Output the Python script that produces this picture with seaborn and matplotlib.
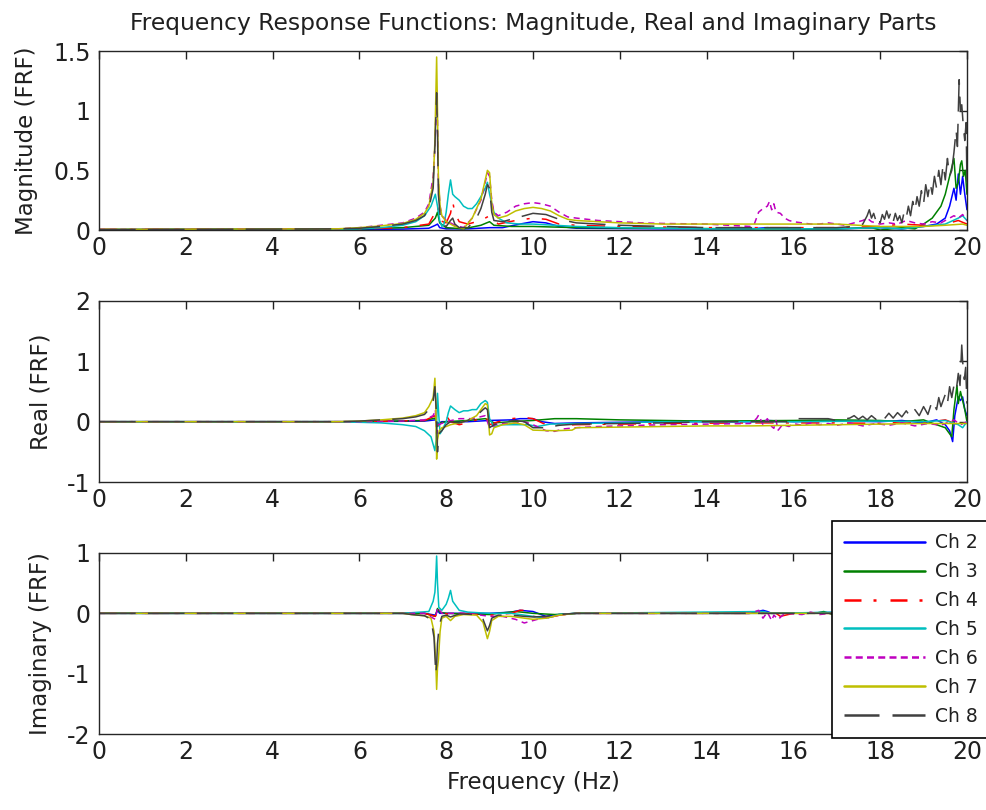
import matplotlib
matplotlib.use("Agg")
import matplotlib.pyplot as plt
import seaborn as sns
import pandas as pd

# ---------------- data (frequency Hz, value) ----------------
CHANNELS = ["Ch 2", "Ch 3", "Ch 4", "Ch 5", "Ch 6", "Ch 7", "Ch 8"]
COLORS = ["#0000ff", "#008000", "#ff0000", "#00bfbf", "#bf00bf", "#bfbf00", "#404040"]

MAG_CH2 = [(0,0.003),(6,0.005),(7.0,0.008),(7.6,0.015),(7.75,0.04),(7.8,0.05),(7.85,0.02),(8.0,0.01),(8.5,0.01),(9.0,0.02),(9.3,0.02),(9.7,0.05),(10.0,0.07),(10.3,0.06),(10.6,0.03),(11,0.015),(13,0.01),(15,0.01),(15.4,0.02),(16,0.01),(17,0.01),(18,0.02),(18.5,0.01),(19,0.03),(19.3,0.05),(19.5,0.1),(19.6,0.2),(19.7,0.35),(19.75,0.25),(19.8,0.47),(19.85,0.3),(19.9,0.45),(19.95,0.3),(20,0.17)]
MAG_CH3 = [(0,0.005),(6,0.01),(7,0.02),(7.6,0.04),(7.75,0.1),(7.8,0.15),(7.85,0.06),(8.0,0.02),(8.4,0.01),(8.8,0.04),(9.0,0.07),(9.1,0.04),(9.5,0.03),(10,0.03),(11,0.02),(13,0.015),(15,0.01),(16,0.01),(17,0.01),(17.8,0.02),(18,0.0),(18.5,0.02),(18.8,0.01),(19.0,0.05),(19.2,0.1),(19.4,0.2),(19.5,0.3),(19.6,0.45),(19.7,0.6),(19.75,0.35),(19.8,0.4),(19.85,0.55),(19.88,0.58),(19.92,0.45),(19.96,0.5),(20,0.3)]
MAG_CH4 = [(0,0.005),(6,0.01),(7,0.02),(7.6,0.05),(7.75,0.15),(7.8,0.2),(7.85,0.08),(8.0,0.06),(8.1,0.14),(8.15,0.24),(8.2,0.14),(8.3,0.07),(8.5,0.05),(8.8,0.08),(9.0,0.12),(9.2,0.05),(9.6,0.08),(10,0.1),(10.3,0.09),(10.6,0.05),(11,0.04),(12,0.03),(14,0.02),(15,0.02),(16,0.02),(17,0.02),(18,0.03),(18.5,0.05),(19,0.04),(19.5,0.05),(19.8,0.08),(20,0.05)]
MAG_CH5 = [(0,0.003),(5.5,0.005),(6,0.01),(6.5,0.02),(7.0,0.04),(7.3,0.07),(7.5,0.12),(7.65,0.2),(7.75,0.3),(7.8,0.2),(7.85,0.08),(7.9,0.03),(7.95,0.05),(8.0,0.15),(8.05,0.3),(8.1,0.42),(8.15,0.3),(8.2,0.28),(8.3,0.25),(8.4,0.2),(8.5,0.18),(8.6,0.18),(8.7,0.22),(8.8,0.28),(8.9,0.35),(8.95,0.4),(9.0,0.3),(9.1,0.15),(9.2,0.1),(9.4,0.06),(9.7,0.05),(10,0.05),(10.5,0.04),(11,0.03),(12,0.02),(13,0.015),(14,0.01),(15,0.01),(16,0.01),(17,0.01),(18,0.02),(18.5,0.01),(19,0.03),(19.5,0.05),(19.8,0.1),(19.9,0.12),(20,0.08)]
MAG_CH6 = [(0,0.005),(5.5,0.01),(6.0,0.02),(6.5,0.04),(7.0,0.06),(7.3,0.1),(7.5,0.15),(7.6,0.22),(7.7,0.45),(7.74,0.7),(7.78,1.17),(7.8,0.9),(7.82,0.4),(7.86,0.2),(7.9,0.12),(8.0,0.08),(8.2,0.04),(8.4,0.02),(8.6,0.1),(8.8,0.25),(8.9,0.4),(8.95,0.48),(9.0,0.45),(9.05,0.25),(9.1,0.15),(9.2,0.12),(9.4,0.15),(9.6,0.2),(9.8,0.22),(10.0,0.23),(10.2,0.22),(10.4,0.2),(10.6,0.15),(10.8,0.11),(11.0,0.1),(11.5,0.08),(12.0,0.07),(12.5,0.06),(13,0.055),(14,0.05),(14.5,0.04),(15.0,0.03),(15.1,0.05),(15.2,0.15),(15.3,0.18),(15.4,0.2),(15.45,0.24),(15.5,0.17),(15.55,0.22),(15.6,0.15),(15.7,0.14),(15.8,0.1),(15.9,0.08),(16.0,0.07),(16.2,0.06),(16.4,0.05),(16.6,0.05),(16.8,0.06),(17.0,0.05),(17.2,0.04),(17.4,0.06),(17.6,0.08),(17.7,0.1),(17.8,0.07),(18.0,0.05),(18.2,0.06),(18.4,0.05),(18.6,0.08),(18.8,0.06),(19.0,0.05),(19.2,0.07),(19.4,0.06),(19.6,0.1),(19.7,0.12),(19.8,0.1),(19.9,0.13),(20,0.08)]
MAG_CH7 = [(0,0.005),(5.5,0.01),(6.0,0.02),(6.5,0.035),(7.0,0.055),(7.3,0.09),(7.5,0.14),(7.6,0.2),(7.7,0.4),(7.74,0.75),(7.78,1.45),(7.8,1.0),(7.82,0.45),(7.86,0.2),(7.9,0.12),(8.0,0.07),(8.2,0.03),(8.4,0.01),(8.6,0.1),(8.8,0.26),(8.9,0.42),(8.95,0.5),(9.0,0.48),(9.05,0.22),(9.1,0.13),(9.2,0.1),(9.4,0.12),(9.6,0.16),(9.8,0.18),(10.0,0.19),(10.2,0.18),(10.4,0.16),(10.6,0.12),(10.8,0.09),(11.0,0.08),(11.5,0.07),(12,0.06),(13,0.05),(14,0.05),(15,0.05),(16,0.05),(17,0.05),(17.5,0.04),(18,0.03),(19,0.03),(19.5,0.04),(19.9,0.05),(20,0.04)]
MAG_CH8 = [(0,0.003),(5.5,0.01),(6.0,0.015),(6.5,0.03),(7.0,0.05),(7.3,0.08),(7.5,0.12),(7.6,0.18),(7.7,0.35),(7.74,0.7),(7.78,1.15),(7.8,0.8),(7.82,0.3),(7.86,0.12),(7.9,0.05),(8.0,0.03),(8.1,0.08),(8.15,0.1),(8.2,0.05),(8.3,0.02),(8.5,0.02),(8.7,0.1),(8.8,0.18),(8.9,0.3),(8.95,0.38),(9.0,0.35),(9.05,0.15),(9.1,0.08),(9.3,0.07),(9.6,0.1),(9.8,0.12),(10.0,0.14),(10.3,0.13),(10.6,0.09),(11,0.06),(12,0.04),(13,0.03),(14,0.02),(15,0.02),(16,0.02),(17,0.02),(17.4,0.03),(17.6,0.05),(17.7,0.12),(17.75,0.17),(17.8,0.1),(17.85,0.14),(17.9,0.08),(17.95,0.12),(18.0,0.06),(18.05,0.13),(18.1,0.09),(18.15,0.16),(18.2,0.1),(18.25,0.15),(18.3,0.07),(18.35,0.14),(18.4,0.08),(18.45,0.12),(18.5,0.06),(18.55,0.15),(18.6,0.1),(18.65,0.2),(18.7,0.12),(18.75,0.24),(18.8,0.16),(18.85,0.28),(18.9,0.2),(18.95,0.33),(19.0,0.22),(19.05,0.38),(19.1,0.28),(19.15,0.4),(19.2,0.3),(19.25,0.45),(19.3,0.35),(19.35,0.5),(19.4,0.38),(19.45,0.55),(19.5,0.42),(19.55,0.6),(19.6,0.45),(19.65,0.5),(19.7,0.65),(19.75,0.84),(19.78,0.7),(19.82,1.26),(19.85,1.0),(19.88,1.05),(19.92,0.85),(19.95,0.75),(19.98,0.9),(20,0.4)]

RE_CH2 = [(0,0),(6,0),(7.5,0.01),(7.75,0.03),(7.8,-0.03),(7.9,0),(8.5,0.0),(9.0,0.02),(9.5,0.03),(9.7,0.05),(10.0,0.05),(10.2,0),(10.5,-0.03),(11,-0.02),(13,0),(15,0),(15.4,0.02),(16,0),(17,0.01),(18,0),(18.5,0.02),(19,-0.02),(19.3,0.03),(19.5,-0.05),(19.6,-0.15),(19.67,-0.33),(19.72,0.1),(19.8,0.41),(19.85,0.35),(19.9,0.41),(19.95,0.2),(20,0.1)]
RE_CH3 = [(0,0),(6,0),(7.5,0.02),(7.75,0.06),(7.8,-0.08),(7.85,-0.02),(8.0,0.0),(8.5,0.02),(8.9,0.05),(9.0,0.02),(9.1,-0.02),(9.5,0.0),(10,0.02),(10.5,0.05),(11,0.05),(12,0.03),(14,0.01),(16,0.02),(17,0.03),(18,0.02),(18.5,0.0),(19,0.03),(19.3,-0.05),(19.5,-0.1),(19.6,-0.2),(19.65,-0.25),(19.7,0.2),(19.77,0.6),(19.8,0.3),(19.85,0.5),(19.9,0.35),(19.95,0.2),(20,0.0)]
RE_CH4 = [(0,0),(6,0),(7.5,0.02),(7.75,0.1),(7.8,-0.1),(7.85,-0.05),(7.9,0.05),(8.0,0.1),(8.1,0.0),(8.3,-0.05),(8.6,0.0),(8.9,0.1),(9.0,-0.05),(9.2,0.0),(9.5,0.05),(9.8,0.07),(10.0,0.05),(10.3,-0.05),(10.6,-0.06),(11,-0.05),(13,-0.03),(15,-0.02),(16,-0.02),(17,-0.02),(18,-0.03),(18.5,0.0),(19,-0.02),(19.5,0.03),(19.8,-0.05),(20,0.0)]
RE_CH5 = [(0,0),(5.5,0),(6.0,-0.01),(6.5,-0.02),(7.0,-0.05),(7.3,-0.08),(7.5,-0.15),(7.65,-0.25),(7.74,-0.48),(7.77,-0.3),(7.8,0.47),(7.83,0.1),(7.86,-0.2),(7.9,-0.15),(8.0,0.0),(8.05,0.15),(8.1,0.26),(8.2,0.2),(8.3,0.15),(8.4,0.18),(8.5,0.18),(8.6,0.2),(8.7,0.2),(8.8,0.3),(8.9,0.35),(8.95,0.32),(9.0,0.05),(9.1,-0.08),(9.3,-0.05),(9.6,-0.05),(9.9,-0.05),(10.1,-0.08),(10.4,-0.04),(11,-0.03),(12,-0.02),(13,0.0),(14,0.0),(15,0.0),(16,0.0),(18,0.01),(19,0.0),(19.5,0.02),(19.8,-0.05),(19.9,-0.1),(20,0.0)]
RE_CH6 = [(0,0),(6,0.0),(7.0,0.01),(7.5,0.03),(7.7,0.1),(7.75,0.2),(7.78,-0.2),(7.82,-0.05),(8.0,0.0),(8.3,0.05),(8.6,0.05),(8.9,0.1),(9.0,-0.1),(9.2,-0.03),(9.5,-0.03),(9.8,0.0),(10.0,-0.05),(10.3,-0.15),(10.5,-0.16),(10.7,-0.12),(11,-0.1),(11.5,-0.08),(12,-0.07),(13,-0.05),(14,-0.04),(15,-0.03),(15.15,0.05),(15.2,0.11),(15.3,-0.05),(15.4,0.05),(15.5,-0.08),(15.55,-0.11),(15.6,0.02),(15.65,-0.14),(15.75,-0.05),(15.9,-0.08),(16.0,-0.03),(16.2,-0.06),(16.4,-0.02),(16.6,-0.05),(16.8,-0.03),(17,-0.06),(17.3,-0.02),(17.6,-0.07),(17.9,-0.03),(18.2,-0.06),(18.5,-0.02),(18.8,-0.07),(19.1,-0.03),(19.4,-0.06),(19.7,0.03),(19.85,-0.05),(20,0.0)]
RE_CH7 = [(0,0),(5.5,0.0),(6.0,0.01),(6.5,0.03),(7.0,0.06),(7.3,0.1),(7.5,0.15),(7.6,0.25),(7.7,0.4),(7.74,0.72),(7.76,0.3),(7.78,-0.62),(7.8,-0.3),(7.84,-0.15),(7.9,-0.1),(8.0,-0.08),(8.1,-0.05),(8.3,-0.02),(8.5,0.02),(8.7,0.1),(8.85,0.25),(8.9,0.3),(8.95,0.28),(9.0,-0.22),(9.05,-0.2),(9.1,-0.1),(9.3,-0.05),(9.6,-0.02),(9.8,-0.05),(10.0,-0.14),(10.5,-0.15),(10.9,-0.14),(11.0,-0.1),(12,-0.09),(13,-0.08),(14,-0.07),(15,-0.07),(16,-0.06),(17,-0.05),(18,-0.04),(19,-0.03),(20,-0.03)]
RE_CH8 = [(0,0),(5.5,0),(6.0,0.01),(6.5,0.03),(7.0,0.05),(7.3,0.08),(7.5,0.12),(7.6,0.2),(7.7,0.35),(7.74,0.58),(7.77,0.2),(7.8,-0.5),(7.83,-0.2),(7.9,-0.15),(8.0,-0.05),(8.1,0.0),(8.3,-0.02),(8.5,0.02),(8.7,0.1),(8.85,0.2),(8.9,0.23),(8.95,0.2),(9.0,-0.1),(9.1,-0.05),(9.3,0.0),(9.6,0.02),(9.8,0.0),(10.0,-0.1),(10.3,-0.1),(10.6,-0.06),(11,-0.04),(12,-0.03),(13,-0.02),(14,0.0),(15,0.0),(16,0.0),(16.1,0.05),(16.8,0.05),(17.0,0.02),(17.3,0.06),(17.4,0.1),(17.5,0.04),(17.6,0.09),(17.7,0.03),(17.8,0.1),(17.9,0.04),(18.0,0.12),(18.1,0.05),(18.2,0.14),(18.3,0.06),(18.4,0.15),(18.5,0.08),(18.6,0.18),(18.7,0.08),(18.8,0.2),(18.9,0.1),(19.0,0.25),(19.1,0.12),(19.2,0.35),(19.3,0.2),(19.35,0.4),(19.4,0.25),(19.5,0.45),(19.55,0.3),(19.6,0.58),(19.65,0.4),(19.7,0.6),(19.75,0.5),(19.8,0.8),(19.84,0.6),(19.88,1.27),(19.9,1.0),(19.94,0.7),(19.97,0.9),(20,0.3)]

IM_CH2 = [(0,0),(7.5,0),(7.75,-0.03),(7.8,0.05),(7.85,0),(9.0,0.0),(9.5,0.02),(9.7,0.05),(10.0,0.03),(10.3,-0.05),(10.6,-0.02),(11,0),(15,0),(15.3,0.05),(15.4,0.03),(15.5,0),(17.5,0.02),(18.5,-0.03),(19.5,0.05),(20,0)]
IM_CH3 = [(0,0),(7.5,0),(7.75,-0.05),(7.8,0.08),(7.85,0.02),(8.0,0.0),(9.0,-0.02),(9.2,0.0),(9.6,0.03),(10.0,0.0),(10.5,-0.02),(11,0),(16.5,0),(16.7,0.03),(16.9,-0.02),(17.2,0.02),(20,0)]
IM_CH4 = [(0,0),(7.5,0),(7.75,-0.05),(7.8,0.05),(7.9,0.02),(8.1,-0.03),(8.3,0),(9.0,-0.03),(9.5,0.0),(9.7,0.05),(9.9,0.05),(10.0,-0.05),(10.3,-0.08),(10.6,-0.03),(11,0),(15.6,0),(15.7,-0.05),(16,0),(20,0)]
IM_CH5 = [(0,0),(7.0,0.0),(7.4,0.02),(7.6,0.03),(7.7,0.2),(7.74,0.35),(7.76,0.6),(7.78,0.95),(7.8,0.5),(7.83,0.1),(7.9,0.05),(8.0,0.15),(8.05,0.25),(8.1,0.38),(8.15,0.2),(8.2,0.15),(8.3,0.05),(8.5,0.02),(9.0,0.0),(9.5,0.0),(10.0,-0.05),(10.3,-0.08),(10.6,-0.02),(11,0),(15.3,0.03),(15.5,0),(17,0.02),(20,0)]
IM_CH6 = [(0,0),(7.5,0),(7.75,-0.1),(7.8,0.1),(7.9,0),(8.5,0),(9.0,-0.05),(9.3,-0.05),(9.6,-0.1),(9.8,-0.16),(10.0,-0.12),(10.2,-0.08),(10.4,-0.06),(10.7,-0.02),(11,0),(15.0,0),(15.2,0.05),(15.3,-0.08),(15.4,0.02),(15.5,-0.12),(15.55,-0.03),(15.65,-0.1),(15.8,0.0),(16.2,-0.02),(16.4,0.02),(16.6,-0.02),(17,0.01),(20,0)]
IM_CH7 = [(0,0),(7.0,0),(7.2,-0.02),(7.5,-0.04),(7.65,-0.08),(7.72,-0.3),(7.76,-0.8),(7.78,-1.26),(7.8,-0.9),(7.82,-0.78),(7.86,-0.3),(7.9,-0.08),(8.0,-0.05),(8.1,-0.12),(8.2,-0.05),(8.4,-0.02),(8.7,-0.03),(8.85,-0.15),(8.95,-0.42),(9.0,-0.3),(9.05,-0.12),(9.2,-0.05),(9.5,-0.05),(9.8,-0.08),(10.0,-0.1),(10.3,-0.08),(10.6,-0.03),(11,0),(20,0)]
IM_CH8 = [(0,0),(7.0,0),(7.2,-0.02),(7.5,-0.04),(7.65,-0.1),(7.72,-0.4),(7.76,-1.0),(7.78,-0.85),(7.8,-0.5),(7.84,-0.2),(7.9,-0.05),(8.0,-0.03),(8.1,-0.06),(8.3,-0.01),(8.7,-0.02),(8.85,-0.1),(8.95,-0.29),(9.0,-0.2),(9.05,-0.08),(9.2,-0.03),(9.5,-0.03),(9.8,-0.05),(10.0,-0.06),(10.3,-0.05),(10.6,-0.02),(11,0),(20,0)]

X_TICKS = [0, 2, 4, 6, 8, 10, 12, 14, 16, 18, 20]
MAG_TICKS = [0, 0.5, 1, 1.5]
MAG_TICKLABELS = ["0", "0.5", "1", "1.5"]
RE_TICKS = [-1, 0, 1, 2]
IM_TICKS = [-2, -1, 0, 1]

TITLE = "Frequency Response Functions: Magnitude, Real and Imaginary Parts"
XLABEL = "Frequency (Hz)"
YLABELS = ["Magnitude (FRF)", "Real (FRF)", "Imaginary (FRF)"]

# ---------------- styling ----------------
sns.set_theme(style="white")
plt.rcParams["font.family"] = ["DejaVu Sans"]
plt.rcParams["axes.unicode_minus"] = False
plt.rcParams["axes.edgecolor"] = "#262626"
plt.rcParams["axes.linewidth"] = 1.0

LINESTYLES = ["-", "-", (0, (12, 8, 2, 8)), "-", (0, (4, 3)), "-", (0, (24, 8))]
LEG_LW = 1.8
LEG_STYLES = ["-", "-", (0, (6.8, 4.8, 1.2, 5.6)), "-", (0, (2.8, 1.7)), "-", (0, (14, 5.2))]
LW = 1.1
TXT = "#202020"

fig = plt.figure(figsize=(9.87, 8.10), dpi=100)
L, W = 0.1003, 0.8794
ax_mag = fig.add_axes([L, 0.7160, W, 0.2210])
ax_re = fig.add_axes([L, 0.4049, W, 0.2235])
ax_im = fig.add_axes([L, 0.0938, W, 0.2235])

panels = [
    (ax_mag, [MAG_CH2, MAG_CH3, MAG_CH4, MAG_CH5, MAG_CH6, MAG_CH7, MAG_CH8], (0, 1.5), MAG_TICKS, MAG_TICKLABELS),
    (ax_re, [RE_CH2, RE_CH3, RE_CH4, RE_CH5, RE_CH6, RE_CH7, RE_CH8], (-1, 2), RE_TICKS, [str(t) for t in RE_TICKS]),
    (ax_im, [IM_CH2, IM_CH3, IM_CH4, IM_CH5, IM_CH6, IM_CH7, IM_CH8], (-2, 1), IM_TICKS, [str(t) for t in IM_TICKS]),
]

FS = 17
for i, (ax, series, ylim, yt, ytl) in enumerate(panels):
    for name, pts, col, ls in zip(CHANNELS, series, COLORS, LINESTYLES):
        df = pd.DataFrame(pts, columns=["f", "v"])
        sns.lineplot(data=df, x="f", y="v", ax=ax, color=col, linestyle=ls,
                     linewidth=LW, estimator=None, sort=False, legend=False,
                     label=name, clip_on=True)
    ax.set_xlim(0, 20)
    ax.set_ylim(*ylim)
    ax.set_xticks(X_TICKS)
    ax.set_xticklabels([str(t) for t in X_TICKS])
    ax.set_yticks(yt)
    ax.set_yticklabels(ytl)
    ax.tick_params(direction="in", length=6, width=1.0, top=True, right=True,
                   labelsize=FS, colors=TXT, pad=4)
    ax.tick_params(axis="y", pad=6)
    ax.set_ylabel(YLABELS[i], fontsize=16.5, color=TXT, labelpad=11)
    ax.set_xlabel("")
    for sp in ax.spines.values():
        sp.set_visible(True)
        sp.set_color("#262626")

ax_mag.set_title(TITLE, fontsize=16.8, color=TXT, pad=15)
ax_im.set_xlabel(XLABEL, fontsize=16.5, color=TXT, labelpad=5)

handles, labels = ax_im.get_legend_handles_labels()
leg = fig.legend(handles[:7], labels[:7], loc="upper left",
                 bbox_to_anchor=(832 / 987, 1 - 521 / 810), borderaxespad=0,
                 fontsize=13.5, handlelength=4.3, handletextpad=0.55,
                 borderpad=0.65, labelspacing=0.53, fancybox=False, shadow=False,
                 frameon=True, framealpha=1)
leg.get_frame().set_edgecolor("#000000")
leg.get_frame().set_linewidth(1.2)
for t in leg.get_texts():
    t.set_color(TXT)
for h, ls in zip(leg.legend_handles, LEG_STYLES):
    h.set_linewidth(LEG_LW)
    h.set_linestyle(ls)

fig.savefig("out.png", dpi=100)
